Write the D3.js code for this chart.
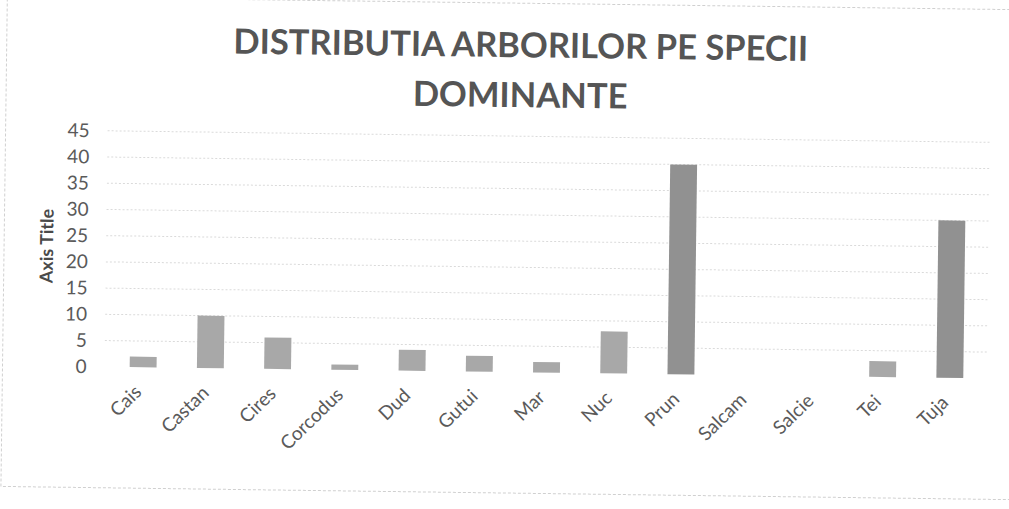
<!DOCTYPE html>
<html>
<head>
<meta charset="utf-8">
<script src="https://cdn.jsdelivr.net/npm/d3@7"></script>
<style>
  html, body { margin: 0; padding: 0; background: #fff; }
  svg { display: block; }
</style>
</head>
<body>
<svg id="chart" width="1009" height="509"></svg>
<script>
const categories = ["Cais","Castan","Cires","Corcodus","Dud","Gutui","Mar","Nuc","Prun","Salcam","Salcie","Tei","Tuja"];
const values = [2, 10, 6, 1, 4, 3, 2, 8, 40, 0, 0, 3, 30];
const yTicks = [0, 5, 10, 15, 20, 25, 30, 35, 40, 45];
const titleLines = ["DISTRIBUTIA ARBORILOR PE SPECII", "DOMINANTE"];
const yAxisTitle = "Axis Title";

const svg = d3.select("#chart");
const font = "Lato, 'Liberation Sans', sans-serif";
const textColor = "#5a5a5a";

const g = svg.append("g").attr("transform", "rotate(0.75, 505, 255)");

// chart border (faint, dotted like the scan)
g.append("rect")
  .attr("x", 4).attr("y", 3).attr("width", 1010).attr("height", 490)
  .attr("fill", "none").attr("stroke", "#d0d0d0").attr("stroke-width", 1)
  .attr("stroke-dasharray", "3,2");

const x = d3.scaleBand().domain(categories).range([111, 985]).paddingInner(0.6).paddingOuter(0.3);
const y = d3.scaleLinear().domain([0, 45]).range([372, 136]);

// gridlines
g.append("g").selectAll("line").data(yTicks.filter(t => t > 0)).join("line")
  .attr("x1", 106).attr("x2", 990)
  .attr("y1", d => y(d)).attr("y2", d => y(d))
  .attr("stroke", "#dadada").attr("stroke-width", 1).attr("stroke-dasharray", "2,2");

// y axis labels via d3 axis
const yAxis = d3.axisLeft(y).tickValues(yTicks).tickSize(0).tickPadding(0).tickFormat(d3.format("d"));
const ya = g.append("g").attr("transform", "translate(88,0)").call(yAxis);
ya.select(".domain").remove();
ya.selectAll("text").attr("font-family", font).attr("font-size", 19).attr("fill", textColor);

// y axis title
g.append("text")
  .attr("transform", "translate(53,252) rotate(-90)")
  .attr("text-anchor", "middle")
  .attr("font-family", font).attr("font-size", 18).attr("font-weight", "bold")
  .attr("fill", "#4a4a4a")
  .text(yAxisTitle);

// bars
g.append("g").selectAll("rect").data(categories.map((c, i) => ({c, v: values[i]}))).join("rect")
  .attr("x", d => x(d.c))
  .attr("width", x.bandwidth())
  .attr("y", d => y(d.v))
  .attr("height", d => y(0) - y(d.v))
  .attr("fill", d => d.v > 20 ? "#919191" : "#a8a8a8");

// x axis labels
const xAxis = d3.axisBottom(x).tickSize(0).tickPadding(0);
const xa = g.append("g").attr("transform", `translate(0,${y(0)})`).call(xAxis);
xa.select(".domain").remove();
xa.selectAll("text")
  .attr("font-family", font).attr("font-size", 19).attr("fill", textColor)
  .attr("text-anchor", "end")
  .attr("dy", null)
  .attr("transform", "translate(0,26) rotate(-45)");

// title
g.append("g").selectAll("text").data(titleLines).join("text")
  .attr("x", 518)
  .attr("y", (d, i) => 57 + i * 50)
  .attr("text-anchor", "middle")
  .attr("font-family", font).attr("font-size", 34.5).attr("font-weight", "bold")
  .attr("fill", "#555")
  .text(d => d);
</script>
</body>
</html>
